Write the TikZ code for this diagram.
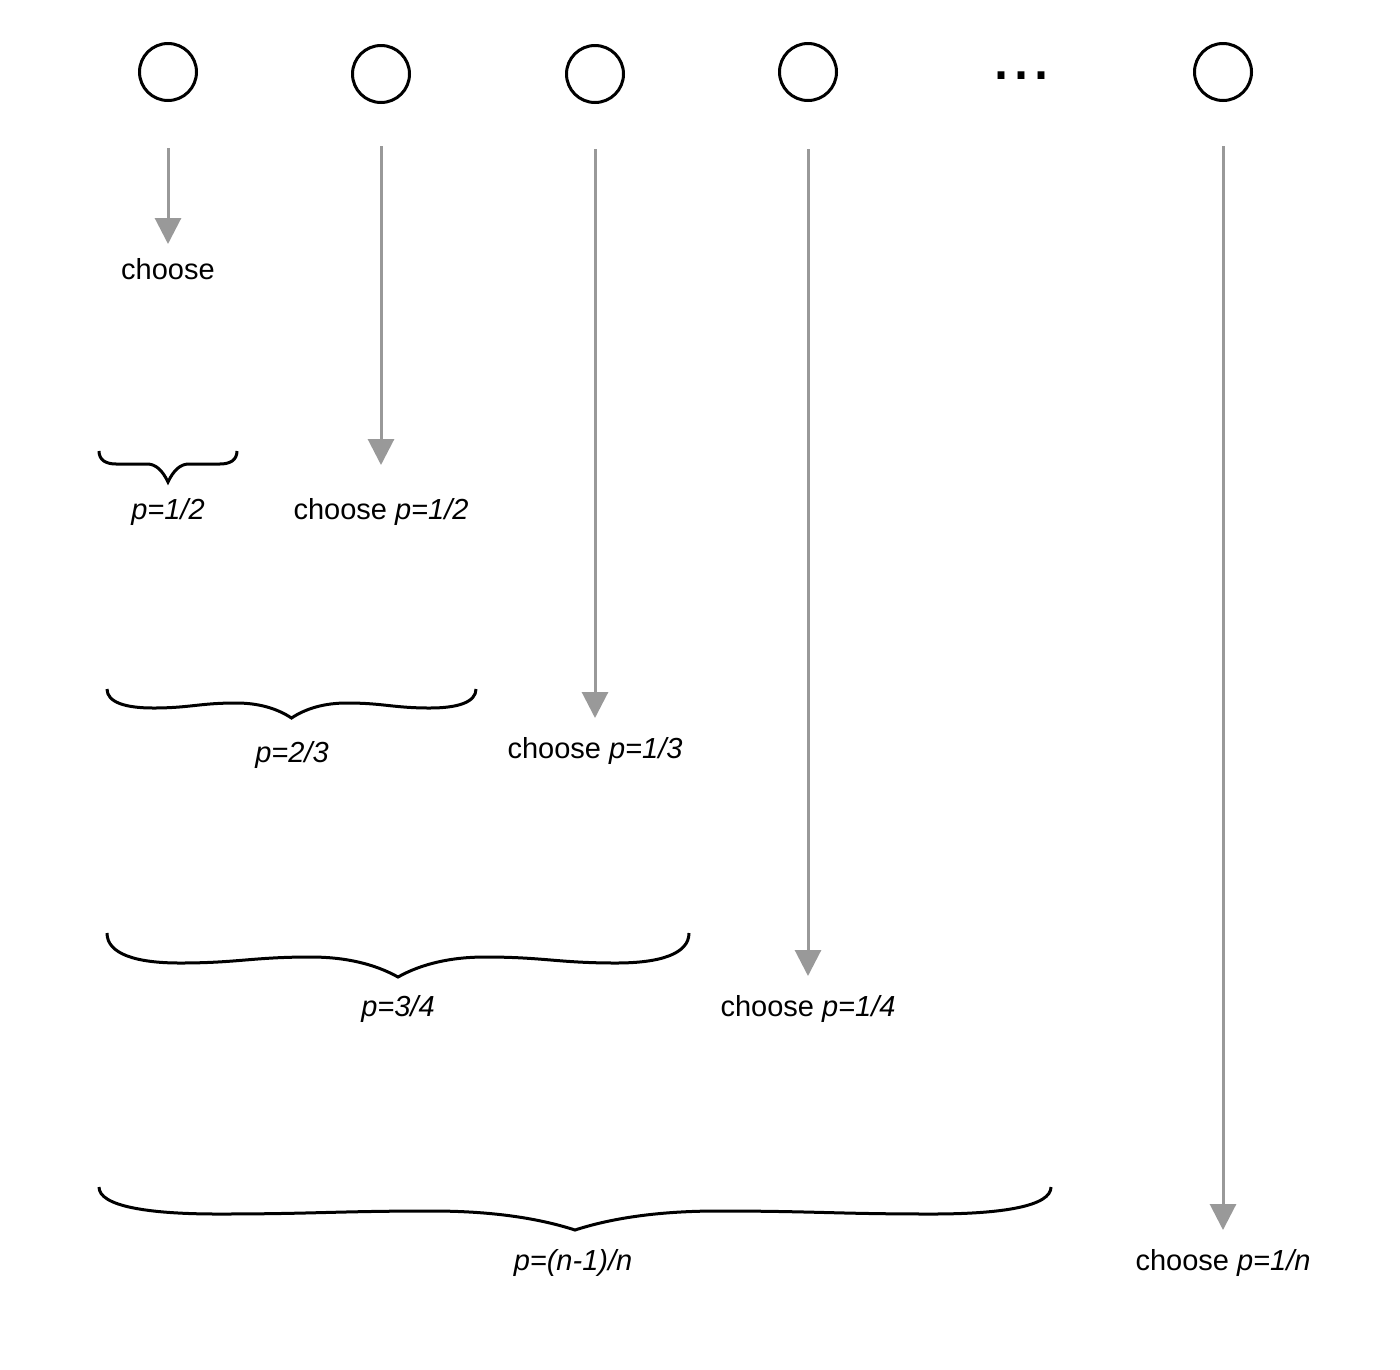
\documentclass[tikz,border=0pt]{standalone}
\usepackage{fontspec}
\setmainfont{Liberation Sans}
\usetikzlibrary{arrows.meta}
\newcommand{\mybrace}[6]{% L R T d1 d2 A
  \pgfmathsetmacro{\bH}{(#2-#1)/2}
  \pgfmathsetmacro{\bM}{(#1+#2)/2}
  \pgfmathsetmacro{\bC}{#3+#5+0.35*(#6-#5)}
  \draw[brc] (#1,#3)
    .. controls (#1,{#3+0.7*#4}) and ({#1+0.1*\bH},{#3+#4}) .. ({#1+0.25*\bH},{#3+#4})
    .. controls ({#1+0.45*\bH},{#3+#4}) and ({#1+0.5*\bH},{#3+#5}) .. ({#1+0.7*\bH},{#3+#5})
    .. controls ({#1+0.82*\bH},{#3+#5}) and ({\bM-0.08*\bH},\bC) .. (\bM,{#3+#6})
    .. controls ({\bM+0.08*\bH},\bC) and ({#2-0.82*\bH},{#3+#5}) .. ({#2-0.7*\bH},{#3+#5})
    .. controls ({#2-0.5*\bH},{#3+#5}) and ({#2-0.45*\bH},{#3+#4}) .. ({#2-0.25*\bH},{#3+#4})
    .. controls ({#2-0.1*\bH},{#3+#4}) and (#2,{#3+0.7*#4}) .. (#2,#3);
}
\begin{document}
\begin{tikzpicture}[x=1pt,y=-1pt,
  circ/.style={circle,draw=black,line width=3pt,minimum size=57pt,inner sep=0pt},
  lbl/.style={font=\fontsize{29}{33}\selectfont,inner sep=0pt,anchor=base},
  garrow/.style={draw={rgb,255:red,153;green,153;blue,153},fill={rgb,255:red,153;green,153;blue,153},line width=3pt,-{Triangle[width=26pt,length=26pt]}},
  brc/.style={draw=black,line width=3pt,line join=miter}
]
\useasboundingbox (0,0) rectangle (1400,1369);
% circles
\node[circ] (c1) at (168,72) {};
\node[circ] (c2) at (381,74) {};
\node[circ] (c3) at (595,74) {};
\node[circ] (c4) at (808,72) {};
\node[circ] (c5) at (1223,72) {};
\node[font=\fontsize{72}{80}\selectfont,inner sep=0pt,anchor=base] (dots) at (1021,79) {...};
% labels
\node[lbl] (t1) at (168,279) {choose};
\node[lbl] (t2) at (381,519) {choose \textit{p=1/2}};
\node[lbl] (t3) at (595,758) {choose \textit{p=1/3}};
\node[lbl] (t4) at (808,1016) {choose \textit{p=1/4}};
\node[lbl] (t5) at (1223,1270) {choose \textit{p=1/n}};
\node[lbl] (q1) at (168,519) {\textit{p=1/2}};
\node[lbl] (q2) at (292,762) {\textit{p=2/3}};
\node[lbl] (q3) at (398,1016) {\textit{p=3/4}};
\node[lbl] (q4) at (573,1270) {\textit{p=(n-1)/n}};
% arrows
\coordinate (s1) at (168,148); \coordinate (e1) at (168,244);
\coordinate (s2) at (381,146); \coordinate (e2) at (381,465);
\coordinate (s3) at (595,149); \coordinate (e3) at (595,718);
\coordinate (s4) at (808,149); \coordinate (e4) at (808,976);
\coordinate (s5) at (1223,146); \coordinate (e5) at (1223,1230);
\foreach \i in {1,...,5} {\draw[garrow] (s\i) -- (e\i);}
% braces
\mybrace{99}{237}{451}{13}{13}{31}
\mybrace{107}{476}{689}{19}{14}{29}
\mybrace{107}{689}{933}{30}{24}{44}
\mybrace{99}{1051}{1187}{27}{24}{43}
\end{tikzpicture}
\end{document}
